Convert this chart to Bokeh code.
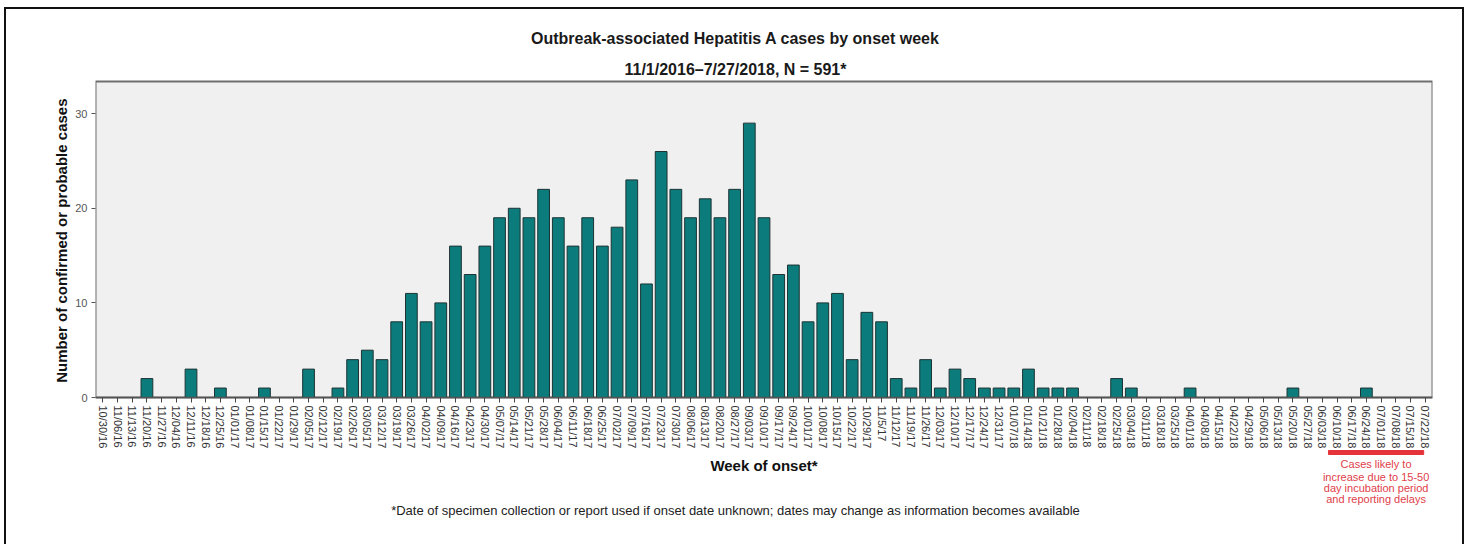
import math
from bokeh.plotting import figure
from bokeh.models import (ColumnDataSource, FactorRange, Range1d, Label,
                          BoxAnnotation, FixedTicker, Title)
from bokeh.embed import file_html
from bokeh.resources import INLINE

# ---------------- data ----------------
weeks = [
    "10/30/16", "11/06/16", "11/13/16", "11/20/16", "11/27/16", "12/04/16",
    "12/11/16", "12/18/16", "12/25/16", "01/01/17", "01/08/17", "01/15/17",
    "01/22/17", "01/29/17", "02/05/17", "02/12/17", "02/19/17", "02/26/17",
    "03/05/17", "03/12/17", "03/19/17", "03/26/17", "04/02/17", "04/09/17",
    "04/16/17", "04/23/17", "04/30/17", "05/07/17", "05/14/17", "05/21/17",
    "05/28/17", "06/04/17", "06/11/17", "06/18/17", "06/25/17", "07/02/17",
    "07/09/17", "07/16/17", "07/23/17", "07/30/17", "08/06/17", "08/13/17",
    "08/20/17", "08/27/17", "09/03/17", "09/10/17", "09/17/17", "09/24/17",
    "10/01/17", "10/08/17", "10/15/17", "10/22/17", "10/29/17", "11/5/17",
    "11/12/17", "11/19/17", "11/26/17", "12/03/17", "12/10/17", "12/17/17",
    "12/24/17", "12/31/17", "01/07/18", "01/14/18", "01/21/18", "01/28/18",
    "02/04/18", "02/11/18", "02/18/18", "02/25/18", "03/04/18", "03/11/18",
    "03/18/18", "03/25/18", "04/01/18", "04/08/18", "04/15/18", "04/22/18",
    "04/29/18", "05/06/18", "05/13/18", "05/20/18", "05/27/18", "06/03/18",
    "06/10/18", "06/17/18", "06/24/18", "07/01/18", "07/08/18", "07/15/18",
    "07/22/18",
]
cases = [
    0, 0, 0, 2, 0, 0,
    3, 0, 1, 0, 0, 1,
    0, 0, 3, 0, 1, 4,
    5, 4, 8, 11, 8, 10,
    16, 13, 16, 19, 20, 19,
    22, 19, 16, 19, 16, 18,
    23, 12, 26, 22, 19, 21,
    19, 22, 29, 19, 13, 14,
    8, 10, 11, 4, 9, 8,
    2, 1, 4, 1, 3, 2,
    1, 1, 1, 3, 1, 1,
    1, 0, 0, 2, 1, 0,
    0, 0, 1, 0, 0, 0,
    0, 0, 0, 1, 0, 0,
    0, 0, 1, 0, 0, 0,
    0,
]
y_ticks = [0, 10, 20, 30]
y_axis_max = 33.4

title_1 = "Outbreak-associated Hepatitis A cases by onset week"
title_2 = "11/1/2016\u20137/27/2018, N = 591*"
x_title = "Week of onset*"
y_title = "Number of confirmed or probable cases"
footnote = ("*Date of specimen collection or report used if onset date unknown; "
            "dates may change as information becomes available")
note_lines = ["Cases likely to", "increase due to 15-50",
              "day incubation period", "and reporting delays"]
note_first_week = "06/10/18"
note_last_week = "07/22/18"

# ---------------- layout (pixels) ----------------
FONT = "Liberation Sans"
W, H = 1466, 544
AREA_L, AREA_R = 95, 1432        # plot area, left/right
AREA_T, AREA_B = 81, 397         # plot area, top/bottom (y = 0 line)
PX = (AREA_B - AREA_T) / y_axis_max          # px per case
CAT = (AREA_R - AREA_L) / len(weeks)         # px per week


def ydat(py):
    """data y for a page pixel row"""
    return (AREA_B - py) / PX


def xdat(px):
    """synthetic categorical x for a page pixel column"""
    return (px - AREA_L) / CAT


src = ColumnDataSource(dict(week=weeks, cases=cases))

# The frame spans the full height, so text above and below the plot area can
# be placed in data space; the y range is chosen so that 0..33.4 cases maps
# onto the grey plot area.
p = figure(
    x_range=FactorRange(factors=weeks, range_padding=0),
    y_range=Range1d(ydat(H), ydat(0)),
    width=W, height=H,
    min_border_left=AREA_L, min_border_right=W - AREA_R,
    min_border_top=0, min_border_bottom=0,
    output_backend="svg", toolbar_location=None,
)
p.border_fill_color = None
p.background_fill_color = None
p.outline_line_color = None
p.styles = {
    "background": ("linear-gradient(#111,#111) 4px 7px / 2px 100% no-repeat, "
                   "linear-gradient(#111,#111) 4px 7px / 1460px 2px no-repeat, "
                   "linear-gradient(#111,#111) 1462px 7px / 2px 100% no-repeat"),
}
p.xgrid.grid_line_color = None
p.ygrid.grid_line_color = None

# grey plot area with its frame
p.quad(left=0, right=len(weeks), bottom=0, top=y_axis_max,
       fill_color="#f0f0f0", line_color="#6e6e6e", line_width=2)

p.vbar(x="week", top="cases", width=0.8, source=src,
       fill_color="#0b7b7b", line_color="#1e3434", line_width=1)

# x axis, drawn on the y = 0 line
xa = p.xaxis[0]
xa.fixed_location = 0
xa.major_label_orientation = -math.pi / 2
xa.major_label_text_font = FONT
xa.major_label_text_font_size = "11px"
xa.major_label_text_color = "#333333"
xa.major_label_standoff = 3
xa.major_tick_in = 0
xa.major_tick_out = 5
xa.major_tick_line_color = "#444444"
xa.axis_line_color = "#555555"
xa.axis_line_width = 1.5
xa.axis_label = x_title
xa.axis_label_text_font = FONT
xa.axis_label_text_font_size = "15px"
xa.axis_label_text_font_style = "bold"
xa.axis_label_text_color = "#111111"
xa.axis_label_standoff = 6

# y axis
ya = p.yaxis[0]
ya.ticker = FixedTicker(ticks=y_ticks)
ya.minor_tick_line_color = None
ya.major_tick_in = 0
ya.major_tick_out = 4
ya.major_tick_line_color = "#555555"
ya.axis_line_color = None
ya.major_label_text_font = FONT
ya.major_label_text_font_size = "11px"
ya.major_label_text_color = "#555555"
ya.major_label_standoff = 4

# y axis title (placed along the grey plot area, not the full frame)
p.add_layout(Title(text=y_title, align="right", offset=98,
                   text_font=FONT, text_font_size="15px",
                   text_font_style="bold", text_color="#111111",
                   standoff=6), "left")

# titles
cx = xdat(735)
p.add_layout(Label(x=cx, y=ydat(38), text=title_1,
                   text_font=FONT, text_font_size="16px", text_font_style="bold",
                   text_color="#1a1a1a", text_align="center",
                   text_baseline="middle"))
p.add_layout(Label(x=cx, y=ydat(69), text=title_2,
                   text_font=FONT, text_font_size="16px", text_font_style="bold",
                   text_color="#1a1a1a", text_align="center",
                   text_baseline="middle"))

# footnote
p.add_layout(Label(x=cx, y=ydat(510), text=footnote,
                   text_font=FONT, text_font_size="13px",
                   text_color="#222222", text_align="center",
                   text_baseline="middle"))

# red note under the last weeks
i0 = weeks.index(note_first_week)
i1 = weeks.index(note_last_week)
bar_l, bar_r = i0 - 0.08, i1 + 0.4
p.add_layout(BoxAnnotation(left=bar_l, right=bar_r,
                           top=ydat(450), bottom=ydat(454),
                           fill_color="#e5333c", fill_alpha=1.0,
                           line_color="#e5333c", line_alpha=1.0))
for line, py in zip(note_lines, [463, 476, 487, 498]):
    p.add_layout(Label(x=(bar_l + bar_r) / 2, y=ydat(py), text=line,
                       text_font=FONT, text_font_size="11px",
                       text_color="#e0404a", text_align="center",
                       text_baseline="middle"))

open("out.html", "w").write(file_html(p, INLINE))
